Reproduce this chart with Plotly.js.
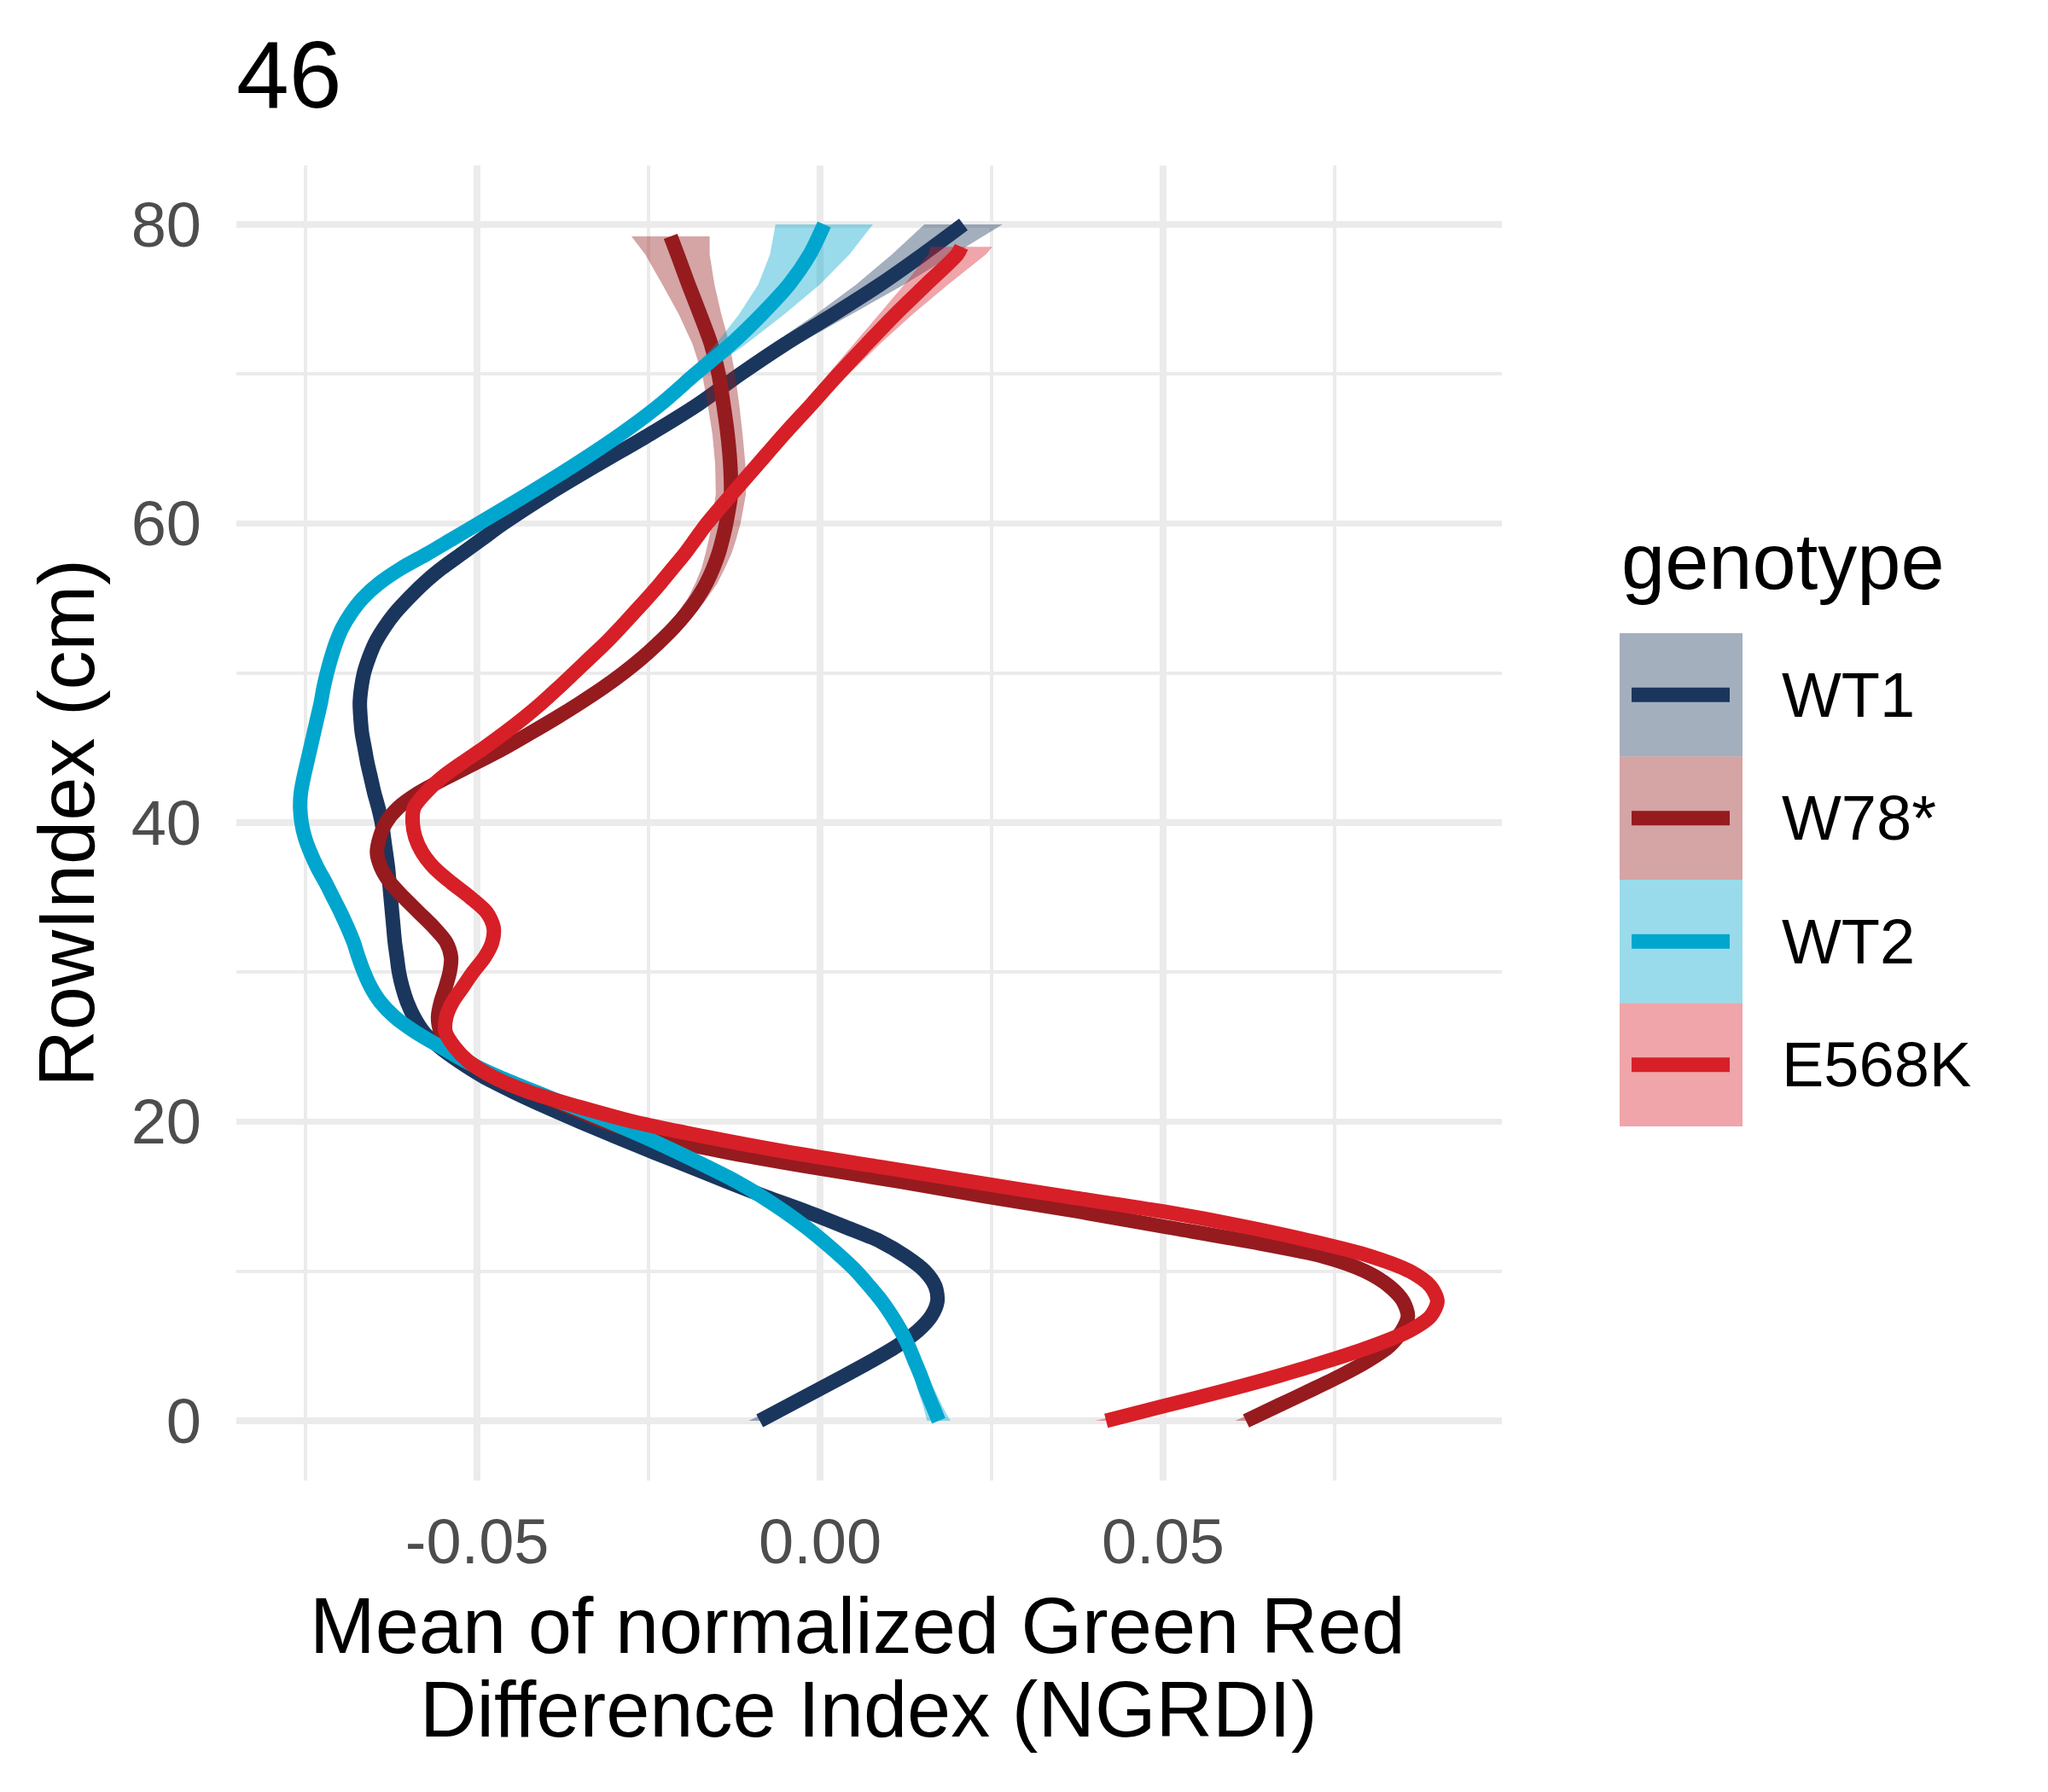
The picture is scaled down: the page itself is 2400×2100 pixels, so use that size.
<!DOCTYPE html>
<html>
<head>
<meta charset="utf-8">
<script src="https://cdn.plot.ly/plotly-3.0.1.min.js"></script>
<style>html,body{margin:0;padding:0;background:#fff}</style>
</head>
<body>
<div id="plot" style="width:2400px;height:2100px"></div>
<script>
// RowIndex grid shared by the smooths (each series adds its own top row)
const rowIndex = [0,1,2,3,4,5,6,7,8,9,10,11,12,13,14,15,16,17,18,19,
  20,21,22,23,24,25,26,27,28,29,30,31,32,33,34,35,36,37,38,39,
  40,41,42,43,44,45,46,47,48,49,50,51,52,53,54,55,56,57,58,59,
  60,62,64,66,68,70,72,74,76,78];

const genotypes = ['WT1', 'W78*', 'WT2', 'E568K'];
const lineColors = ['#1B365D', '#951B1F', '#00A6CE', '#D71F27'];
const topRow = [80, 79.2, 80, 78.5];

// smoothed mean NGRDI per genotype
const ngrdiWT1 = [-0.0088,-0.0047,-0.0006,0.0035,0.0075,0.0112,0.0142,0.0162,0.0171,0.0168,
  0.0153,0.0125,0.0088,0.0035,-0.0020,-0.0080,-0.0136,-0.0190,-0.0245,-0.0298,
  -0.0350,-0.0400,-0.0447,-0.0490,-0.0525,-0.0555,-0.0578,-0.0592,-0.0602,-0.0609,
  -0.0614,-0.0617,-0.0620,-0.0622,-0.0624,-0.0626,-0.0628,-0.0630,-0.0633,-0.0636,
  -0.0639,-0.0644,-0.0650,-0.0655,-0.0660,-0.0664,-0.0668,-0.0670,-0.0671,-0.0669,
  -0.0665,-0.0658,-0.0649,-0.0636,-0.0620,-0.0600,-0.0578,-0.0552,-0.0522,-0.0492,
  -0.0462,-0.0395,-0.0322,-0.0247,-0.0177,-0.0116,-0.0051,0.0020,0.0088,0.0150,
  0.0209];
const ngrdiW78 = [0.0621,0.0667,0.0713,0.0758,0.0798,0.0830,0.0848,0.0857,0.0850,0.0830,
  0.0795,0.0733,0.0625,0.0500,0.0377,0.0242,0.0117,-0.0017,-0.0140,-0.0242,
  -0.0315,-0.0366,-0.0420,-0.0472,-0.0512,-0.0538,-0.0553,-0.0557,-0.0553,-0.0546,
  -0.0540,-0.0538,-0.0545,-0.0563,-0.0585,-0.0607,-0.0627,-0.0640,-0.0646,-0.0642,
  -0.0633,-0.0615,-0.0585,-0.0545,-0.0502,-0.0460,-0.0422,-0.0385,-0.0350,-0.0317,
  -0.0287,-0.0260,-0.0236,-0.0214,-0.0195,-0.0179,-0.0166,-0.0156,-0.0148,-0.0142,
  -0.0137,-0.0130,-0.0131,-0.0135,-0.0141,-0.0148,-0.0159,-0.0175,-0.0192,-0.0208,
  -0.0218];
const ngrdiWT2 = [0.0173,0.0164,0.0155,0.0147,0.0138,0.0129,0.0118,0.0105,0.0090,0.0072,
  0.0053,0.0030,0.0005,-0.0022,-0.0052,-0.0085,-0.0122,-0.0165,-0.0210,-0.0257,
  -0.0307,-0.0360,-0.0415,-0.0468,-0.0515,-0.0553,-0.0590,-0.0620,-0.0641,-0.0655,
  -0.0665,-0.0673,-0.0680,-0.0689,-0.0699,-0.0710,-0.0721,-0.0733,-0.0743,-0.0751,
  -0.0756,-0.0758,-0.0757,-0.0753,-0.0748,-0.0743,-0.0738,-0.0733,-0.0728,-0.0724,
  -0.0719,-0.0713,-0.0706,-0.0697,-0.0684,-0.0667,-0.0643,-0.0611,-0.0572,-0.0535,
  -0.0498,-0.0425,-0.0355,-0.0290,-0.0232,-0.0182,-0.0130,-0.0085,-0.0045,-0.0015,
  0.0006];
const ngrdiE568K = [0.0417,0.0502,0.0588,0.0668,0.0740,0.0805,0.0858,0.0890,0.0900,0.0890,
  0.0860,0.0803,0.0718,0.0618,0.0500,0.0358,0.0220,0.0085,-0.0050,-0.0167,
  -0.0272,-0.0352,-0.0425,-0.0477,-0.0512,-0.0533,-0.0546,-0.0545,-0.0536,-0.0521,
  -0.0506,-0.0489,-0.0478,-0.0476,-0.0486,-0.0510,-0.0538,-0.0563,-0.0580,-0.0590,
  -0.0594,-0.0592,-0.0575,-0.0552,-0.0522,-0.0490,-0.0460,-0.0432,-0.0406,-0.0382,
  -0.0359,-0.0336,-0.0313,-0.0292,-0.0272,-0.0252,-0.0233,-0.0215,-0.0197,-0.0181,
  -0.0165,-0.0128,-0.0090,-0.0052,-0.0012,0.0027,0.0068,0.0110,0.0155,0.0200,
  0.0206];

// half-width of the confidence band
const seWT1 = [0.0016,0.0013,0.0011,0.0010,0.0009,0.0008,0.0008,0.0008,0.0008,0.0008,
  0.0008,0.0008,0.0008,0.0008,0.0008,0.0008,0.0008,0.0008,0.0008,0.0008,
  0.0008,0.0008,0.0008,0.0008,0.0008,0.0008,0.0008,0.0008,0.0008,0.0008,
  0.0008,0.0008,0.0008,0.0008,0.0008,0.0008,0.0008,0.0008,0.0008,0.0008,
  0.0008,0.0008,0.0008,0.0008,0.0008,0.0008,0.0008,0.0008,0.0008,0.0008,
  0.0008,0.0008,0.0008,0.0008,0.0008,0.0008,0.0008,0.0008,0.0008,0.0008,
  0.0008,0.0008,0.0009,0.0010,0.0011,0.0014,0.0019,0.0026,0.0035,0.0045,
  0.0057];
const seW78 = [0.0016,0.0013,0.0011,0.0010,0.0009,0.0008,0.0008,0.0008,0.0008,0.0008,
  0.0008,0.0008,0.0008,0.0008,0.0008,0.0008,0.0008,0.0008,0.0008,0.0008,
  0.0008,0.0008,0.0008,0.0008,0.0008,0.0008,0.0008,0.0008,0.0008,0.0008,
  0.0008,0.0008,0.0008,0.0008,0.0008,0.0008,0.0008,0.0008,0.0008,0.0008,
  0.0008,0.0008,0.0008,0.0008,0.0008,0.0009,0.0009,0.0009,0.0009,0.0009,
  0.0010,0.0010,0.0011,0.0012,0.0013,0.0014,0.0016,0.0017,0.0019,0.0020,
  0.0021,0.0022,0.0022,0.0022,0.0023,0.0024,0.0027,0.0031,0.0038,0.0047,
  0.0057];
const seWT2 = [0.0017,0.0014,0.0012,0.0010,0.0009,0.0008,0.0008,0.0008,0.0008,0.0008,
  0.0008,0.0008,0.0008,0.0008,0.0008,0.0008,0.0008,0.0008,0.0008,0.0008,
  0.0008,0.0008,0.0008,0.0008,0.0008,0.0008,0.0008,0.0008,0.0008,0.0008,
  0.0008,0.0008,0.0008,0.0008,0.0008,0.0008,0.0008,0.0008,0.0008,0.0008,
  0.0008,0.0008,0.0008,0.0008,0.0008,0.0008,0.0008,0.0008,0.0008,0.0008,
  0.0008,0.0008,0.0008,0.0008,0.0008,0.0008,0.0008,0.0008,0.0008,0.0008,
  0.0008,0.0008,0.0008,0.0009,0.0010,0.0012,0.0022,0.0033,0.0045,0.0058,
  0.0071];
const seE568K = [0.0016,0.0013,0.0011,0.0010,0.0009,0.0008,0.0008,0.0008,0.0008,0.0008,
  0.0008,0.0008,0.0008,0.0008,0.0008,0.0008,0.0008,0.0008,0.0008,0.0008,
  0.0008,0.0008,0.0008,0.0008,0.0008,0.0008,0.0008,0.0008,0.0008,0.0008,
  0.0008,0.0008,0.0008,0.0008,0.0008,0.0008,0.0008,0.0008,0.0008,0.0008,
  0.0008,0.0008,0.0008,0.0008,0.0008,0.0008,0.0008,0.0008,0.0008,0.0008,
  0.0008,0.0008,0.0008,0.0008,0.0008,0.0008,0.0008,0.0008,0.0008,0.0008,
  0.0008,0.0008,0.0008,0.0010,0.0012,0.0015,0.0019,0.0025,0.0032,0.0042,
  0.0045];

const xTickVals = [-0.05, 0, 0.05];
const xTickText = ['-0.05', '0.00', '0.05'];
const xMinorVals = [-0.075, -0.025, 0.025, 0.075];
const yTickVals = [0, 20, 40, 60, 80];
const yMinorVals = [10, 30, 50, 70];
const xTitleLines = ['Mean of normalized Green Red', 'Difference Index (NGRDI)'];

const means = [ngrdiWT1, ngrdiW78, ngrdiWT2, ngrdiE568K];
const bands = [seWT1, seW78, seWT2, seE568K];

function rgba(hex, a) {
  const n = parseInt(hex.slice(1), 16);
  return `rgba(${(n >> 16) & 255},${(n >> 8) & 255},${n & 255},${a})`;
}

// ggplot draws ribbon then line for each group in turn
const data = [];
genotypes.forEach((g, i) => {
  const y = rowIndex.concat([topRow[i]]);
  const x = means[i];
  const lo = x.map((v, k) => v - bands[i][k]);
  const hi = x.map((v, k) => v + bands[i][k]);
  data.push({
    type: 'scatter', mode: 'lines', name: g, hoverinfo: 'skip',
    x: lo.concat([...hi].reverse()),
    y: y.concat([...y].reverse()),
    fill: 'toself', fillcolor: rgba(lineColors[i], 0.4),
    line: { width: 0, color: rgba(lineColors[i], 0) }
  });
  data.push({
    type: 'scatter', mode: 'lines', name: g,
    x, y,
    line: { color: lineColors[i], width: 17, shape: 'spline', smoothing: 0.8 }
  });
});

const W = 2400, H = 2100;
const plotL = 277, plotR = 1760, plotT = 194, plotB = 1735;
const px = v => (v - plotL) / (plotR - plotL);
const py = v => (plotB - v) / (plotB - plotT);

// hand-drawn ggplot-style legend
const keyTop = 742, keyH = 144.5;
const shapes = [], annotations = [];
genotypes.forEach((g, i) => {
  const t = keyTop + i * keyH;
  shapes.push({
    type: 'rect', xref: 'paper', yref: 'paper',
    x0: px(1898), x1: px(2042), y0: py(t + keyH), y1: py(t),
    fillcolor: rgba(lineColors[i], 0.4), line: { width: 0 }
  });
  shapes.push({
    type: 'line', xref: 'paper', yref: 'paper',
    x0: px(1912), x1: px(2027), y0: py(t + keyH / 2), y1: py(t + keyH / 2),
    line: { color: lineColors[i], width: 17 }
  });
  annotations.push({
    xref: 'paper', yref: 'paper', x: px(2086), y: py(t + keyH / 2),
    xanchor: 'left', yanchor: 'middle', showarrow: false,
    text: g, font: { size: 74, color: '#000' }
  });
});
annotations.push({
  xref: 'paper', yref: 'paper', x: px(1898), y: py(658),
  xanchor: 'left', yanchor: 'middle', showarrow: false,
  text: 'genotype', font: { size: 92, color: '#000' }
});
// two-line x axis title, spaced like the original
annotations.push({
  xref: 'paper', yref: 'paper', x: px(1005), y: py(1905),
  xanchor: 'center', yanchor: 'middle', showarrow: false,
  text: xTitleLines[0], font: { size: 92, color: '#000' }
});
annotations.push({
  xref: 'paper', yref: 'paper', x: px(1018), y: py(2003),
  xanchor: 'center', yanchor: 'middle', showarrow: false,
  text: xTitleLines[1], font: { size: 92, color: '#000' }
});

const grid = '#EBEBEB';
const layout = {
  width: W, height: H,
  margin: { l: plotL, r: W - plotR, t: plotT, b: H - plotB, pad: 0 },
  paper_bgcolor: '#fff', plot_bgcolor: '#fff',
  font: { family: 'Liberation Sans, Arial, sans-serif', color: '#000' },
  showlegend: false,
  title: {
    text: '46', font: { size: 111, color: '#000' },
    xref: 'container', x: plotL / W, xanchor: 'left',
    yref: 'container', y: 1 - 87 / H, yanchor: 'middle'
  },
  xaxis: {
    range: [-0.0851, 0.0994], tickmode: 'array', tickvals: xTickVals, ticktext: xTickText,
    showgrid: true, gridcolor: grid, gridwidth: 7.5,
    minor: { tickmode: 'array', tickvals: xMinorVals, showgrid: true, gridcolor: grid, gridwidth: 3.8 },
    zeroline: false, showline: false, ticks: '',
    tickfont: { size: 74, color: '#4D4D4D' }, ticklabelstandoff: 22
  },
  yaxis: {
    range: [-3.99, 83.94], tickmode: 'array', tickvals: yTickVals,
    showgrid: true, gridcolor: grid, gridwidth: 7.5,
    minor: { tickmode: 'array', tickvals: yMinorVals, showgrid: true, gridcolor: grid, gridwidth: 3.8 },
    zeroline: false, showline: false, ticks: '',
    tickfont: { size: 74, color: '#4D4D4D' }, ticklabelstandoff: 40,
    title: { text: 'RowIndex (cm)', font: { size: 92, color: '#000' }, standoff: 12 }
  },
  shapes, annotations
};

Plotly.newPlot('plot', data, layout, { displayModeBar: false, staticPlot: true });
</script>
</body>
</html>
